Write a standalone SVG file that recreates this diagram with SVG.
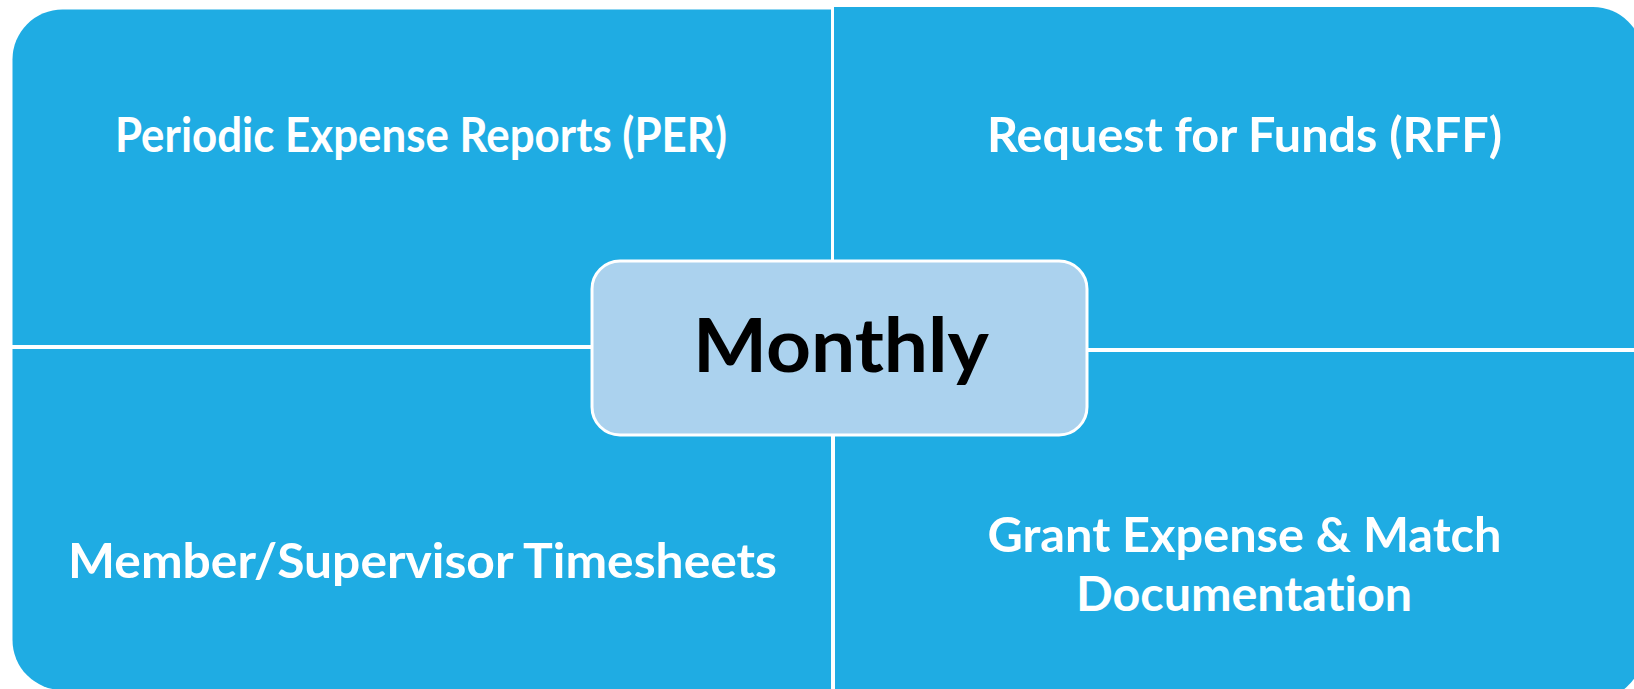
<svg xmlns="http://www.w3.org/2000/svg" width="1634" height="689" viewBox="0 0 1634 689">
<style>
.quad{fill:#1FACE3;}
.lbl{font-family:Lato,"Open Sans","Liberation Sans",sans-serif;font-weight:700;font-size:47.5px;fill:#FFFFFF;text-anchor:middle;font-variant-ligatures:none;font-feature-settings:"liga" 0,"dlig" 0;}
.ctr{fill:#ABD2EE;stroke:#FFFFFF;stroke-width:3;}
.ctrtxt{font-family:Lato,"Open Sans","Liberation Sans",sans-serif;font-weight:700;font-size:75px;fill:#000000;text-anchor:middle;font-variant-ligatures:none;}
</style>
<rect x="0" y="0" width="1634" height="689" fill="#FFFFFF"/>
<g id="node-per">
<path class="quad" d="M12.5,59.5 A50,50 0 0 1 62.5,9.5 L831,9.5 L831,345 L12.5,345 Z"/>
<text class="lbl" x="421" y="152" textLength="612" lengthAdjust="spacingAndGlyphs">Periodic Expense Reports (PER)</text>
</g>
<g id="node-rff">
<path class="quad" d="M834,7 L1593,7 A50,50 0 0 1 1643,57 L1643,348 L834,348 Z"/>
<text class="lbl" x="1244.5" y="152" textLength="515" lengthAdjust="spacingAndGlyphs">Request for Funds (RFF)</text>
</g>
<g id="node-timesheets">
<path class="quad" d="M12.5,349 L831,349 L831,690 L62.5,690 A50,50 0 0 1 12.5,640 Z"/>
<text class="lbl" x="422.5" y="578" textLength="709" lengthAdjust="spacingAndGlyphs">Member/Supervisor Timesheets</text>
</g>
<g id="node-grant">
<path class="quad" d="M835,352 L1643,352 L1643,650 A50,50 0 0 1 1593,700 L835,700 Z"/>
<text class="lbl" x="1244.5" y="552" textLength="514" lengthAdjust="spacingAndGlyphs">Grant Expense &amp; Match</text>
<text class="lbl" x="1244" y="611" textLength="336" lengthAdjust="spacingAndGlyphs">Documentation</text>
</g>
<g id="node-monthly">
<rect class="ctr" x="592" y="261" width="495" height="174" rx="28" ry="28"/>
<text class="ctrtxt" x="841" y="372" textLength="296" lengthAdjust="spacingAndGlyphs">Monthly</text>
</g>
</svg>
